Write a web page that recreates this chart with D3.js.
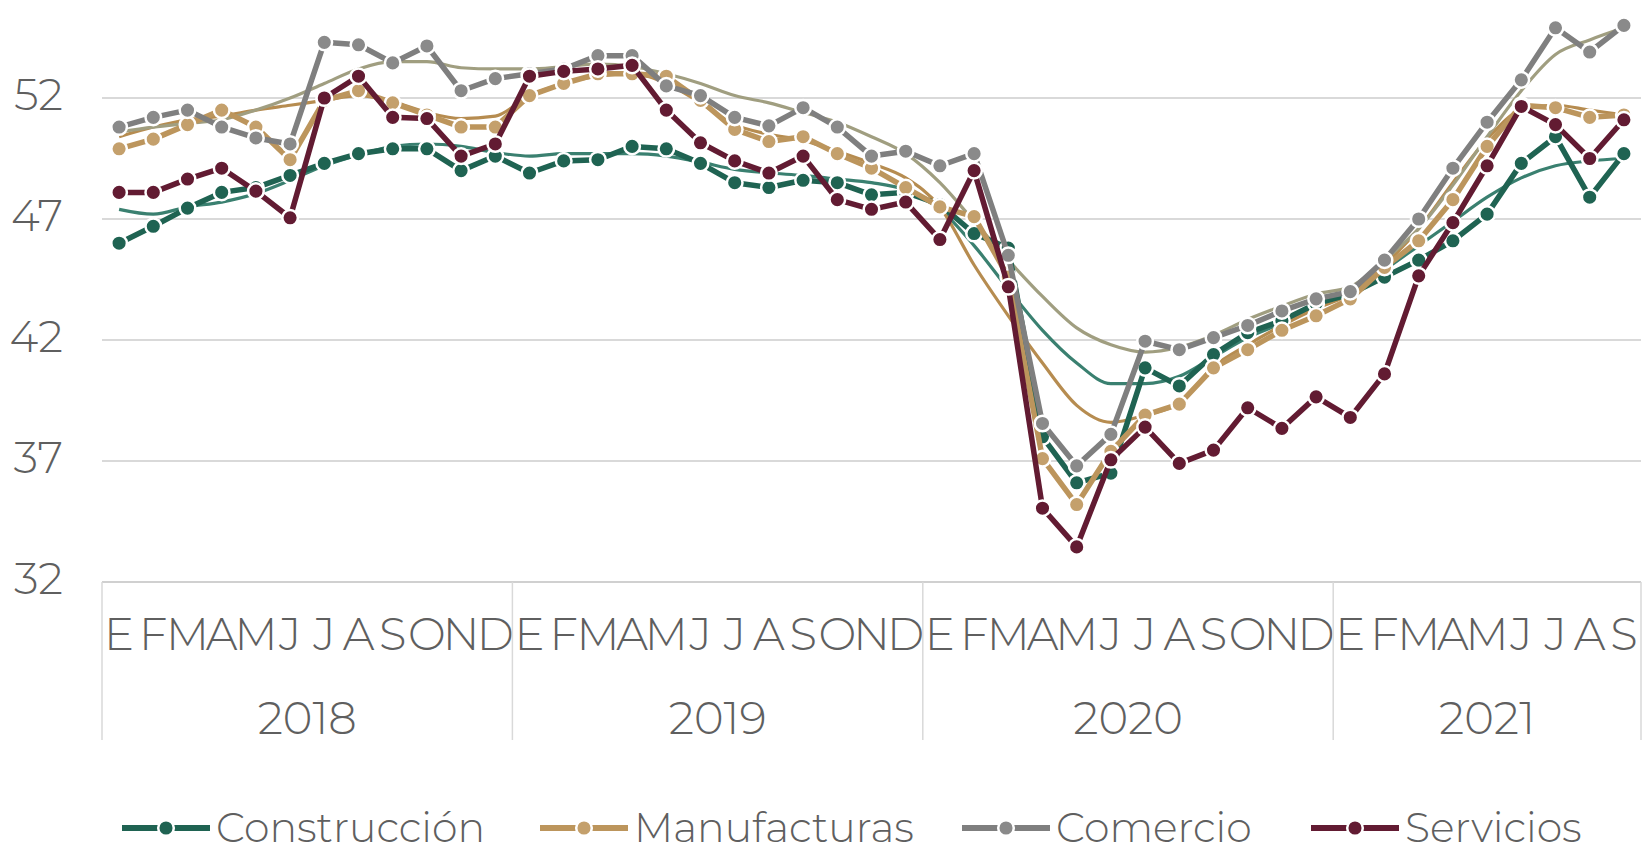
<!DOCTYPE html>
<html>
<head>
<meta charset="utf-8">
<script src="https://cdn.jsdelivr.net/npm/d3@7/dist/d3.min.js"></script>
<style>
  html, body { margin: 0; padding: 0; background: #fff; }
  svg { display: block; font-family: "Montserrat", "Open Sans", "Noto Sans", sans-serif; font-weight: 300; }
</style>
</head>
<body>
<svg id="chart" width="1644" height="852"></svg>
<script>
// Month initials and year groups for the two-level category axis
const months = ["E", "F", "M", "A", "M", "J", "J", "A", "S", "O", "N", "D"];
const years = ["2018", "2019", "2020", "2021"];
const monthsPerYear = [12, 12, 12, 9];
const yTicks = [32, 37, 42, 47, 52];

const seriesNames = ["Construcción", "Manufacturas", "Comercio", "Servicios"];

// Monthly indicator values, Jan 2018 – Sep 2021
const construccion = [
  46.0, 46.7, 47.45, 48.1, 48.3, 48.8, 49.3, 49.7, 49.9, 49.9, 49.0, 49.6,
  48.9, 49.4, 49.45, 50.0, 49.9, 49.3, 48.5, 48.3, 48.6, 48.5, 48.0, 48.1,
  47.6, 46.4, 45.8, 38.0, 36.1, 36.5, 40.85, 40.1, 41.4, 42.3, 42.8, 43.5,
  43.9, 44.6, 45.3, 46.1, 47.2, 49.3, 50.4, 47.9, 49.7
];
const manufacturas = [
  49.9, 50.3, 50.9, 51.5, 50.8, 49.45, 51.9, 52.3, 51.8, 51.3, 50.8, 50.8,
  52.1, 52.6, 53.0, 53.0, 52.9, 51.9, 50.7, 50.2, 50.4, 49.7, 49.1, 48.3,
  47.5, 47.1, 44.6, 37.1, 35.2, 37.4, 38.9, 39.35, 40.85, 41.6, 42.4, 43.0,
  43.7, 45.0, 46.1, 47.8, 50.0, 51.7, 51.6, 51.2, 51.3
];
const comercio = [
  50.8, 51.2, 51.5, 50.8, 50.35, 50.1, 54.3, 54.2, 53.45, 54.15, 52.3, 52.8,
  53.0, 53.2, 53.75, 53.75, 52.5, 52.1, 51.2, 50.85, 51.6, 50.8, 49.6, 49.8,
  49.2, 49.7, 45.5, 38.55, 36.8, 38.1, 41.95, 41.6, 42.1, 42.6, 43.2, 43.7,
  44.0, 45.3, 47.0, 49.1, 51.0, 52.75, 54.9, 53.9, 55.0
];
const servicios = [
  48.1, 48.1, 48.65, 49.1, 48.15, 47.05, 52.0, 52.9, 51.2, 51.15, 49.6, 50.1,
  52.9, 53.1, 53.2, 53.35, 51.5, 50.15, 49.4, 48.9, 49.6, 47.8, 47.4, 47.7,
  46.15, 49.0, 44.2, 35.05, 33.45, 37.05, 38.4, 36.9, 37.45, 39.2, 38.35, 39.65,
  38.8, 40.6, 44.65, 46.85, 49.2, 51.65, 50.9, 49.5, 51.1
];

// Smoothed trend for three of the sectors
const tendenciaConstruccion = [
  47.4, 47.2, 47.5, 47.7, 48.05, 48.6, 49.2, 49.65, 50.0, 50.1, 50.0, 49.75,
  49.6, 49.7, 49.7, 49.7, 49.6, 49.35, 49.05, 48.9, 48.8, 48.65, 48.5, 48.2,
  47.4, 45.9, 44.1, 42.4, 41.05, 40.2, 40.2, 40.5, 41.3, 42.1, 42.7, 43.4,
  44.0, 44.9, 45.9, 46.9, 47.9, 48.7, 49.2, 49.4, 49.5
];
const tendenciaManufacturas = [
  50.4, 50.8, 51.1, 51.25, 51.5, 51.7, 51.9, 52.1, 51.85, 51.4, 51.15, 51.25,
  52.1, 52.6, 52.9, 53.0, 52.6, 51.8, 50.9, 50.5, 50.25, 49.8, 49.3, 48.7,
  47.5, 45.1, 43.0, 41.05, 39.3, 38.6, 38.9, 39.4, 40.9, 41.8, 42.6, 43.3,
  43.9, 45.1, 46.6, 48.5, 50.3, 51.5, 51.7, 51.5, 51.3
];
const tendenciaComercio = [
  50.6, 50.8, 50.95, 51.1, 51.5, 52.0, 52.6, 53.2, 53.5, 53.5, 53.25, 53.2,
  53.2, 53.3, 53.4, 53.3, 53.0, 52.6, 52.1, 51.8, 51.4, 51.0, 50.4, 49.7,
  48.5, 46.9, 45.3, 43.8, 42.5, 41.8, 41.5, 41.7, 42.2, 42.85, 43.4, 43.9,
  44.2, 45.3, 46.6, 48.4, 50.4, 52.3, 53.8, 54.4, 54.9
];

const W = 1644, H = 852;
const plot = { left: 102, right: 1641, top: 25.4, bottom: 582 };
const textColor = "#5f5f5f";

const svg = d3.select("#chart");

const nMonths = d3.sum(monthsPerYear);
const idx = d3.range(nMonths);
const x = d3.scaleBand().domain(idx).range([plot.left, plot.right]).padding(0);
const cx = i => x(i) + x.bandwidth() / 2;
const y = d3.scaleLinear().domain([32, 55]).range([plot.bottom, plot.top]);

// Horizontal gridlines
svg.append("g")
  .selectAll("line")
  .data(yTicks.filter(t => t > 32))
  .join("line")
  .attr("x1", plot.left).attr("x2", plot.right)
  .attr("y1", d => y(d)).attr("y2", d => y(d))
  .attr("stroke", "#d9d9d9").attr("stroke-width", 2);

// Category axis baseline
svg.append("line")
  .attr("x1", plot.left).attr("x2", plot.right)
  .attr("y1", y(32)).attr("y2", y(32))
  .attr("stroke", "#d0d0d0").attr("stroke-width", 2);

// Value axis labels
const yAxis = d3.axisLeft(y).tickValues(yTicks).tickSize(0).tickPadding(0);
const gy = svg.append("g")
  .attr("transform", `translate(63,0)`)
  .call(yAxis)
  .attr("font-family", null)
  .attr("font-size", null);
gy.select(".domain").remove();
gy.selectAll("text")
  .attr("font-size", 44)
  .attr("fill", textColor)
  .attr("dy", "0.32em")
  .attr("y", -3);

// Two-level category axis: month initials and year groups
const monthAxis = d3.axisBottom(x)
  .tickValues(idx)
  .tickFormat(i => months[i % 12])
  .tickSize(0).tickPadding(0);
const gx = svg.append("g")
  .attr("transform", `translate(0,${plot.bottom})`)
  .call(monthAxis)
  .attr("font-family", null)
  .attr("font-size", null);
gx.select(".domain").remove();
gx.selectAll("text")
  .attr("font-size", 45)
  .attr("fill", textColor)
  .attr("dy", null)
  .attr("y", 68);

let start = 0;
const groups = monthsPerYear.map((n, k) => {
  const g = { year: years[k], first: start, last: start + n - 1 };
  start += n;
  return g;
});

const sepX = [plot.left, ...groups.map(g => x(g.last) + x.bandwidth())];
svg.append("g")
  .selectAll("line")
  .data(sepX)
  .join("line")
  .attr("x1", d => d).attr("x2", d => d)
  .attr("y1", plot.bottom).attr("y2", 740)
  .attr("stroke", "#d9d9d9").attr("stroke-width", 1.5);

svg.append("g")
  .selectAll("text")
  .data(groups)
  .join("text")
  .attr("x", g => (x(g.first) + x(g.last) + x.bandwidth()) / 2)
  .attr("y", 734)
  .attr("text-anchor", "middle")
  .attr("font-size", 45)
  .attr("fill", textColor)
  .text(g => g.year);

// Series styling
const colors = ["#1f6352", "#bc955c", "#7f7f7f", "#621b32"];
const markerFill = ["#1f6352", "#c4a06c", "#8a8a8a", "#621b32"];
const trendColors = ["#3a8070", "#b68c50", "#a09e80"];

const seriesData = [construccion, manufacturas, comercio, servicios];
const trendData = [tendenciaConstruccion, tendenciaManufacturas, tendenciaComercio];

const straight = d3.line().x((d, i) => cx(i)).y(d => y(d));
const smooth = d3.line().x((d, i) => cx(i)).y(d => y(d)).curve(d3.curveMonotoneX);

// Trend curves sit beneath the monthly lines
svg.append("g")
  .selectAll("path")
  .data(trendData)
  .join("path")
  .attr("d", d => smooth(d))
  .attr("fill", "none")
  .attr("stroke", (d, k) => trendColors[k])
  .attr("stroke-width", 3.2)
  .attr("stroke-linejoin", "round");

seriesData.forEach((vals, k) => {
  const g = svg.append("g");
  g.append("path")
    .attr("d", straight(vals))
    .attr("fill", "none")
    .attr("stroke", colors[k])
    .attr("stroke-width", 5.5)
    .attr("stroke-linejoin", "round");
  g.selectAll("circle")
    .data(vals)
    .join("circle")
    .attr("cx", (d, i) => cx(i))
    .attr("cy", d => y(d))
    .attr("r", 7.8)
    .attr("fill", markerFill[k])
    .attr("stroke", "#ffffff")
    .attr("stroke-width", 2.5);
});

// Legend
const legendX = [122, 540, 962, 1311];
const legendY = 828;
const lg = svg.append("g")
  .selectAll("g")
  .data(seriesNames)
  .join("g")
  .attr("transform", (d, k) => `translate(${legendX[k]},${legendY})`);
lg.append("line")
  .attr("x1", 0).attr("x2", 88).attr("y1", 0).attr("y2", 0)
  .attr("stroke", (d, k) => colors[k]).attr("stroke-width", 6);
lg.append("circle")
  .attr("cx", 44).attr("cy", 0).attr("r", 7.8)
  .attr("fill", (d, k) => markerFill[k])
  .attr("stroke", "#fff").attr("stroke-width", 2.5);
lg.append("text")
  .attr("x", 94).attr("y", 14)
  .attr("font-size", 41)
  .attr("fill", textColor)
  .text(d => d);
</script>
</body>
</html>
